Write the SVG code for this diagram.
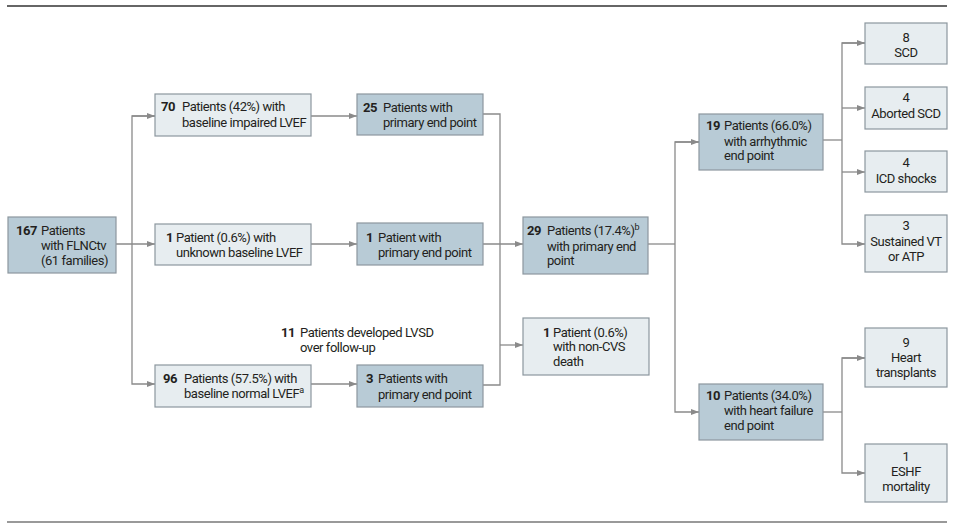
<svg xmlns="http://www.w3.org/2000/svg" width="956" height="525" viewBox="0 0 956 525">
<defs>
<style>
.dark{fill:#b8cbd6;stroke:#8c979e;stroke-width:1.2}
.light{fill:#e7edf0;stroke:#8c979e;stroke-width:1.2}
.ln{fill:none;stroke:#8a8a8a;stroke-width:1.3}
text{font-family:Roboto,"Liberation Sans",sans-serif;font-size:13px;fill:#231f20;letter-spacing:-0.45px}
.b{font-weight:bold}
.c{text-anchor:middle}
.sup{font-size:9px}
</style>
<marker id="ah" viewBox="0 0 8 6" refX="8" refY="3" markerWidth="8" markerHeight="6" markerUnits="userSpaceOnUse" orient="auto">
<path d="M0,0 L8,3 L0,6 Z" fill="#8a8a8a"/>
</marker>
</defs>
<rect width="956" height="525" fill="#ffffff"/>
<line x1="7" y1="6" x2="947" y2="6" stroke="#333" stroke-width="1.3"/>
<line x1="7" y1="522" x2="947" y2="522" stroke="#777" stroke-width="1.3"/>

<g id="connectors">
<path class="ln" d="M116,244 H155" marker-end="url(#ah)"/>
<path class="ln" d="M155,116 H132 V384 H155" marker-end="url(#ah)"/>
<path class="ln" d="M132,116 H155" marker-end="url(#ah)"/>
<path class="ln" d="M311,116 H357" marker-end="url(#ah)"/>
<path class="ln" d="M311,244 H357" marker-end="url(#ah)"/>
<path class="ln" d="M311,384 H357" marker-end="url(#ah)"/>
<path class="ln" d="M483,114 H500 V385 H483"/>
<path class="ln" d="M500,345 H523" marker-end="url(#ah)"/>
<path class="ln" d="M483,244 H523" marker-end="url(#ah)"/>
<path class="ln" d="M648,244 H675"/>
<path class="ln" d="M699,142 H675 V412 H699" marker-end="url(#ah)"/>
<path class="ln" d="M675,142 H699" marker-end="url(#ah)"/>
<path class="ln" d="M823,140 H842"/>
<path class="ln" d="M865,43 H842 V244 H865" marker-end="url(#ah)"/>
<path class="ln" d="M842,43 H865" marker-end="url(#ah)"/>
<path class="ln" d="M842,108 H865" marker-end="url(#ah)"/>
<path class="ln" d="M842,172 H865" marker-end="url(#ah)"/>
<path class="ln" d="M823,412 H842"/>
<path class="ln" d="M865,358 H842 V473 H865" marker-end="url(#ah)"/>
<path class="ln" d="M842,358 H865" marker-end="url(#ah)"/>
</g>

<g id="n167">
<rect class="dark" x="8" y="217" width="108" height="56"/>
<text x="16" y="235"><tspan class="b">167</tspan></text>
<text x="41" y="235">Patients</text>
<text x="41" y="250">with FLNCtv</text>
<text x="41" y="265">(61 families)</text>
</g>

<g id="n70">
<rect class="light" x="155" y="94" width="156" height="42"/>
<text x="161" y="111" class="b">70</text>
<text x="182" y="111">Patients (42%) with</text>
<text x="182" y="127">baseline impaired LVEF</text>
</g>

<g id="n1u">
<rect class="light" x="155" y="224" width="156" height="41"/>
<text x="166" y="242" class="b">1</text>
<text x="176" y="242">Patient (0.6%) with</text>
<text x="176" y="257">unknown baseline LVEF</text>
</g>

<g id="n96">
<rect class="light" x="155" y="365" width="156" height="42"/>
<text x="163" y="383" class="b">96</text>
<text x="184" y="383">Patients (57.5%) with</text>
<text x="184" y="398">baseline normal LVEF<tspan class="sup" dy="-5">a</tspan></text>
</g>

<g id="n11">
<text x="281" y="337" class="b">11</text>
<text x="300" y="337">Patients developed LVSD</text>
<text x="300" y="352">over follow-up</text>
</g>

<g id="n25">
<rect class="dark" x="357" y="94" width="126" height="41"/>
<text x="363" y="112" class="b">25</text>
<text x="383" y="112">Patients with</text>
<text x="383" y="127">primary end point</text>
</g>

<g id="n1p">
<rect class="dark" x="357" y="223" width="126" height="42"/>
<text x="366" y="242" class="b">1</text>
<text x="378" y="242">Patient with</text>
<text x="378" y="257">primary end point</text>
</g>

<g id="n3">
<rect class="dark" x="357" y="365" width="126" height="42"/>
<text x="366" y="383" class="b">3</text>
<text x="378" y="383">Patients with</text>
<text x="378" y="399">primary end point</text>
</g>

<g id="n29">
<rect class="dark" x="523" y="217" width="125" height="57"/>
<text x="527" y="235" class="b">29</text>
<text x="547" y="235">Patients (17.4%)<tspan class="sup" dy="-5">b</tspan></text>
<text x="547" y="251">with primary end</text>
<text x="547" y="265">point</text>
</g>

<g id="nncvs">
<rect class="light" x="523" y="318" width="126" height="57"/>
<text x="543" y="337" class="b">1</text>
<text x="553" y="337">Patient (0.6%)</text>
<text x="553" y="351">with non-CVS</text>
<text x="553" y="366">death</text>
</g>

<g id="n19">
<rect class="dark" x="699" y="114" width="124" height="56"/>
<text x="706" y="130" class="b">19</text>
<text x="724" y="130">Patients (66.0%)</text>
<text x="724" y="146">with arrhythmic</text>
<text x="724" y="160">end point</text>
</g>

<g id="n10">
<rect class="dark" x="699" y="384" width="124" height="56"/>
<text x="706" y="400" class="b">10</text>
<text x="724" y="400">Patients (34.0%)</text>
<text x="724" y="415">with heart failure</text>
<text x="724" y="430">end point</text>
</g>

<g id="nscd">
<rect class="light" x="865" y="23" width="82" height="41"/>
<text x="906" y="42" class="c">8</text>
<text x="906" y="57" class="c">SCD</text>
</g>

<g id="naborted">
<rect class="light" x="865" y="87" width="82" height="42"/>
<text x="906" y="102" class="c">4</text>
<text x="906" y="118" class="c">Aborted SCD</text>
</g>

<g id="nicd">
<rect class="light" x="865" y="151" width="82" height="41"/>
<text x="906" y="167" class="c">4</text>
<text x="906" y="183" class="c">ICD shocks</text>
</g>

<g id="nvt">
<rect class="light" x="865" y="215" width="82" height="57"/>
<text x="906" y="230" class="c">3</text>
<text x="906" y="246" class="c">Sustained VT</text>
<text x="906" y="261" class="c">or ATP</text>
</g>

<g id="nheart">
<rect class="light" x="865" y="328" width="82" height="59"/>
<text x="906" y="347" class="c">9</text>
<text x="906" y="362" class="c">Heart</text>
<text x="906" y="377" class="c">transplants</text>
</g>

<g id="neshf">
<rect class="light" x="865" y="444" width="82" height="58"/>
<text x="906" y="461" class="c">1</text>
<text x="906" y="476" class="c">ESHF</text>
<text x="906" y="491" class="c">mortality</text>
</g>
</svg>
